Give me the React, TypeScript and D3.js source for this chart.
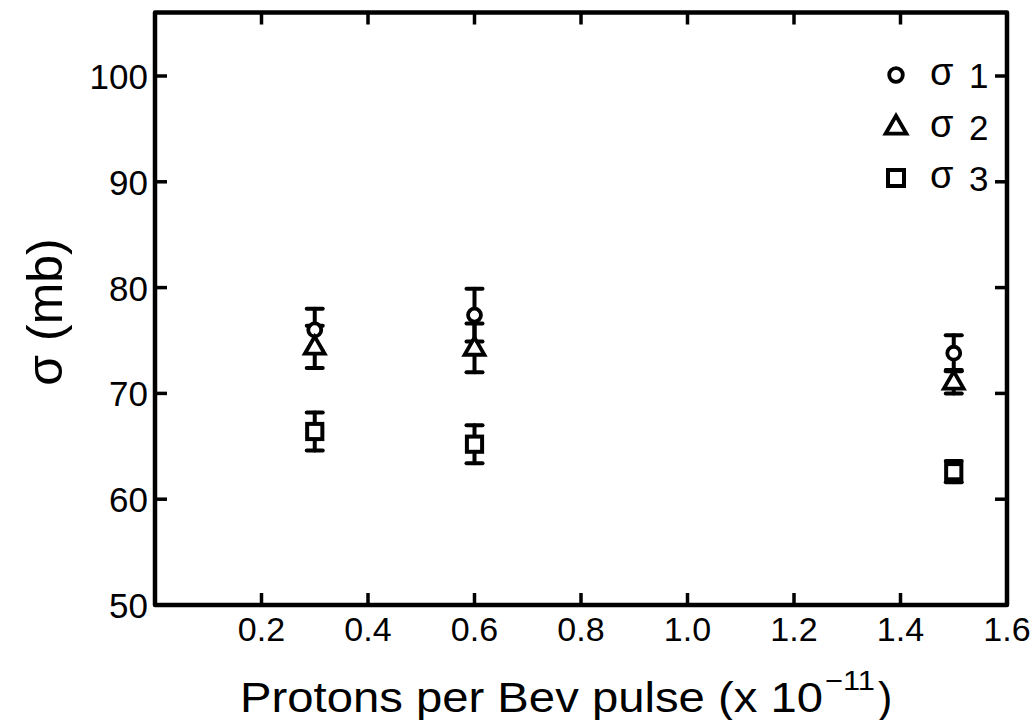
import React from 'react';
import * as d3 from 'd3';

// ---- data ----
const xValues = [0.3, 0.6, 1.5];
const sigma1 = [76.0, 77.4, 73.8];
const sigma1Err = [2.0, 2.5, 1.7];
const sigma2 = [74.4, 74.3, 71.1];
const sigma2Err = [2.0, 2.3, 1.1];
const sigma3 = [66.4, 65.2, 62.6];
const sigma3Err = [1.8, 1.8, 1.0];
const xTicks = [0.2, 0.4, 0.6, 0.8, 1.0, 1.2, 1.4, 1.6];
const xTickLabels = ['0.2', '0.4', '0.6', '0.8', '1.0', '1.2', '1.4', '1.6'];
const yTicks = [50, 60, 70, 80, 90, 100];
const yTickLabels = ['50', '60', '70', '80', '90', '100'];
const seriesNames = ['1', '2', '3'];
const xTitle = 'Protons per Bev pulse (x 10';
const xTitleExp = '−11';
const yTitle = 'σ (mb)';

const W = 1030;
const H = 720;
const xScale = d3.scaleLinear().domain([0, 1.6]).range([155, 1007]);
const yScale = d3.scaleLinear().domain([50, 100]).range([605, 76]);
const yTop = 106;

const INK = '#000';
const FONT = '"Liberation Sans", Arial, sans-serif';

function Marker({ kind, cx, cy, s }: { kind: number; cx: number; cy: number; s: number }) {
  if (kind === 0) {
    return <circle cx={cx} cy={cy} r={s * 0.34} fill="#fff" stroke={INK} strokeWidth={3.8} />;
  }
  if (kind === 1) {
    const h = s * 0.9;
    const tri = d3.line()([
      [cx, cy - h * 0.6],
      [cx + s * 0.52, cy + h * 0.4],
      [cx - s * 0.52, cy + h * 0.4],
    ]) + 'Z';
    return <path d={tri} fill="#fff" stroke={INK} strokeWidth={3.8} strokeLinejoin="miter" />;
  }
  const a = s * 0.4;
  return <rect x={cx - a} y={cy - a} width={2 * a} height={2 * a} fill="#fff" stroke={INK} strokeWidth={4} />;
}

export default function App() {
  const x0 = xScale(0);
  const x1 = xScale(1.6);
  const y0 = yScale(50);
  const y1 = yScale(yTop);
  const tick = 12;
  const cap = 8;
  const series = [
    { v: sigma1, e: sigma1Err },
    { v: sigma2, e: sigma2Err },
    { v: sigma3, e: sigma3Err },
  ];
  const framePath = d3.line()([
    [x0, y1],
    [x1, y1],
    [x1, y0],
    [x0, y0],
  ]) + 'Z';

  return (
    <svg width={W} height={H} style={{ position: 'absolute', left: 0, top: 0, background: '#fff' }}>
      <rect x={0} y={0} width={W} height={H} fill="#fff" />
      {/* frame */}
      <path d={framePath} fill="none" stroke={INK} strokeWidth={4.5} strokeLinejoin="round" />
      {/* x ticks bottom & top */}
      {xTicks.filter((t) => t < 1.6).map((t) => (
        <g key={'xt' + t}>
          <line x1={xScale(t)} x2={xScale(t)} y1={y0} y2={y0 - tick} stroke={INK} strokeWidth={3.5} />
          <line x1={xScale(t)} x2={xScale(t)} y1={y1} y2={y1 + tick} stroke={INK} strokeWidth={3.5} />
        </g>
      ))}
      {xTicks.map((t, i) => (
        <text key={'xl' + t} x={xScale(t)} y={641} fontFamily={FONT} fontSize={34} textAnchor="middle" fill={INK}>
          {xTickLabels[i]}
        </text>
      ))}
      {/* y ticks left & right */}
      {yTicks.filter((t) => t > 50).map((t) => (
        <g key={'yt' + t}>
          <line x1={x0} x2={x0 + tick} y1={yScale(t)} y2={yScale(t)} stroke={INK} strokeWidth={3.5} />
          <line x1={x1} x2={x1 - tick} y1={yScale(t)} y2={yScale(t)} stroke={INK} strokeWidth={3.5} />
        </g>
      ))}
      {yTicks.map((t, i) => (
        <text key={'yl' + t} x={148} y={yScale(t) + 13} fontFamily={FONT} fontSize={35} textAnchor="end" fill={INK}>
          {yTickLabels[i]}
        </text>
      ))}
      {/* axis titles */}
      <text x={240} y={712} fontFamily={FONT} fontSize={43} fill={INK} textLength={583} lengthAdjust="spacingAndGlyphs">
        {xTitle}
      </text>
      <text x={825} y={690} fontFamily={FONT} fontSize={28} fill={INK} textLength={50} lengthAdjust="spacingAndGlyphs">
        {xTitleExp}
      </text>
      <text x={878} y={712} fontFamily={FONT} fontSize={43} fill={INK}>
        )
      </text>
      <text
        transform={`translate(62, 312) rotate(-90)`}
        fontFamily={FONT}
        fontSize={50}
        textAnchor="middle"
        fill={INK}
      >
        {yTitle}
      </text>
      {/* error bars */}
      {series.map((s, si) =>
        xValues.map((xv, i) => {
          const cx = xScale(xv);
          const top = yScale(s.v[i] + s.e[i]);
          const bot = yScale(s.v[i] - s.e[i]);
          return (
            <g key={`eb${si}-${i}`} stroke={INK} strokeWidth={4} strokeLinecap="round">
              <line x1={cx} x2={cx} y1={top} y2={bot} />
              <line x1={cx - cap} x2={cx + cap} y1={top} y2={top} />
              <line x1={cx - cap} x2={cx + cap} y1={bot} y2={bot} />
            </g>
          );
        })
      )}
      {/* markers */}
      {series.map((s, si) =>
        xValues.map((xv, i) => (
          <Marker key={`m${si}-${i}`} kind={si} cx={xScale(xv)} cy={yScale(s.v[i])} s={19} />
        ))
      )}
      {/* legend */}
      {seriesNames.map((n, i) => {
        const cy = 75 + i * 51.5;
        return (
          <g key={'lg' + n}>
            <Marker kind={i} cx={896} cy={cy} s={20} />
            <text x={930} y={cy + 10} fontFamily={FONT} fontSize={38} fill={INK}>
              σ
            </text>
            <text x={969} y={cy + 13} fontFamily={FONT} fontSize={35} fill={INK}>
              {n}
            </text>
          </g>
        );
      })}
    </svg>
  );
}
